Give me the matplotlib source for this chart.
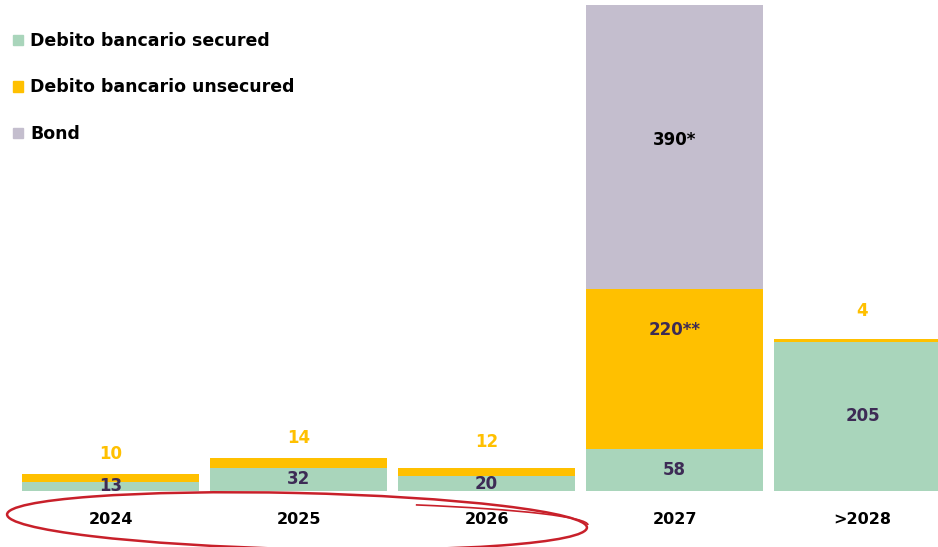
import numpy as np
import matplotlib.pyplot as plt
from matplotlib.patches import Patch, Ellipse, Arc

# Debt maturity profile (EUR m)
years = ["2024", "2025", "2026", "2027", ">2028"]
secured = [13, 32, 20, 58, 205]
unsecured = [10, 14, 12, 220, 4]
bond = [0, 0, 0, 390, 0]
unsecured_labels = ["10", "14", "12", "220**", "4"]
bond_labels = ["", "", "", "390*", ""]

green = "#a9d5bb"
yellow = "#ffc000"
grey = "#c4bece"
purple = "#3d2b55"

fig = plt.figure(figsize=(9.38, 5.47), dpi=100)
ax = fig.add_axes([0, 56 / 547, 1, 491 / 547])

x = np.arange(len(years))
w = 0.94
secured = np.array(secured)
unsecured = np.array(unsecured)
bond = np.array(bond)

ax.bar(x, secured, w, color=green, label="Debito bancario secured")
ax.bar(x, unsecured, w, bottom=secured, color=yellow, label="Debito bancario unsecured")
ax.bar(x, bond, w, bottom=secured + unsecured, color=grey, label="Bond")

ax.set_xlim(-110.5 / 188, (938 - 110.5) / 188)
ax.set_ylim(0, 675)

# secured labels at the middle of the segment
for i, v in enumerate(secured):
    ax.text(x[i], v / 2, str(v), ha="center", va="center", color=purple,
            fontsize=12, fontweight="bold")

# unsecured labels: above the bar, or inside for 2027
gaps = [20, 20, 26, 0, 28]  # pixel gap above bar top
for i, lab in enumerate(unsecured_labels):
    top = secured[i] + unsecured[i]
    if bond[i] > 0:
        ax.text(x[i], top - 41 / 0.727, lab, ha="center", va="center",
                color=purple, fontsize=12, fontweight="bold")
    else:
        ax.text(x[i], top + gaps[i] / 0.727, lab, ha="center", va="center",
                color=yellow, fontsize=12, fontweight="bold")

for i, lab in enumerate(bond_labels):
    if lab:
        ax.text(x[i], secured[i] + unsecured[i] + bond[i] / 2 + 7 / 0.727, lab,
                ha="center", va="center", color="black", fontsize=12, fontweight="bold")

ax.set_xticks(x)
ax.set_xticklabels(years, fontsize=11.5, fontweight="bold")
ax.tick_params(axis="x", length=0, pad=15)
ax.set_yticks([])
for s in ax.spines.values():
    s.set_visible(False)

handles = [Patch(color=green), Patch(color=yellow), Patch(color=grey)]
fig.legend(handles, ["Debito bancario secured", "Debito bancario unsecured", "Bond"],
           loc="upper left", bbox_to_anchor=(13 / 938, 1 - 32 / 547), frameon=False,
           prop={"size": 12.5, "weight": "bold"}, handlelength=0.55, handleheight=0.55,
           handletextpad=0.45, labelspacing=1.64, borderpad=0, borderaxespad=0)

# red hand-drawn ellipse round 2024-2026
ov = fig.add_axes([0, 0, 1, 1])
ov.set_xlim(0, 938)
ov.set_ylim(547, 0)
ov.axis("off")
ov.patch.set_alpha(0)
ov.add_patch(Ellipse((297, 521), 580, 56, angle=1.3, fill=False,
                     edgecolor="#c8202a", linewidth=1.8))
ov.add_patch(Arc((300, 522), 576, 40, angle=0.6, theta1=351, theta2=360,
                 edgecolor="#c8202a", linewidth=1.2))

fig.savefig("out.png", dpi=100)
